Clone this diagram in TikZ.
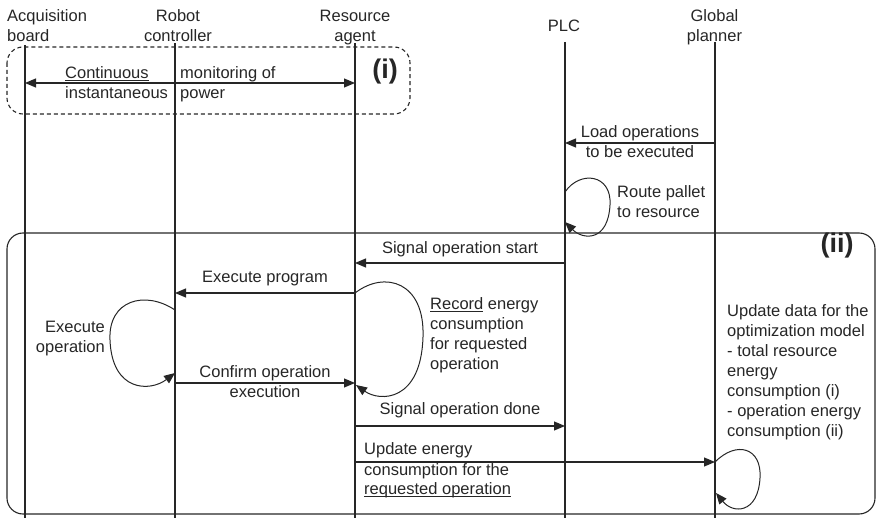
\documentclass[tikz,border=0pt]{standalone}
\usepackage{fontspec}
\setmainfont{Liberation Sans}
\usetikzlibrary{arrows.meta}
\definecolor{ink}{HTML}{262626}
% underline that ignores descenders, drawn just under the baseline
\newcommand\undl[1]{\underline{\smash{#1}}}
\begin{document}
\begin{tikzpicture}[x=1pt,y=-1pt,
  every node/.style={font=\fontsize{16.5}{20}\selectfont, text=ink, inner sep=0pt},
  lifeline/.style={draw=ink, line width=1.1pt},
  msg/.style={draw=ink, line width=1.2pt, -{Triangle[length=11pt,width=9pt]}},
  dmsg/.style={draw=ink, line width=1.2pt, {Triangle[length=11pt,width=9pt]}-{Triangle[length=11pt,width=9pt]}},
  selfloop/.style={draw=ink, line width=1pt, -{Triangle[length=11pt,width=9pt]}},
  phase/.style={draw=ink, line width=1.1pt, rounded corners=16pt},
  tag/.style={font=\fontsize{27}{30}\selectfont\bfseries}]
\useasboundingbox (0,0) rectangle (876,518);

% ---- participants ----
\node[anchor=base west, align=left] (hdr-acq) at (7,42) {Acquisition\\board};
\node[anchor=base, align=center] (hdr-rob) at (178,42) {Robot\\controller};
\node[anchor=base, align=center] (hdr-res) at (355,42) {Resource\\agent};
\node[anchor=base] (hdr-plc) at (564,32) {PLC};
\node[anchor=base, align=center] (hdr-gp) at (714.5,42) {Global\\planner};

\coordinate (acq-top) at (25,45);   \coordinate (acq-bot) at (25,518);
\coordinate (rob-top) at (175,43);  \coordinate (rob-bot) at (175,518);
\coordinate (res-top) at (355,43);  \coordinate (res-bot) at (355,518);
\coordinate (plc-top) at (565,42);  \coordinate (plc-bot) at (565,518);
\coordinate (gp-top)  at (715,42);  \coordinate (gp-bot)  at (715,518);

% ---- phase frames ----
\draw[phase, dashed, dash pattern=on 4pt off 3pt] (7,47) rectangle (410,114);
\draw[phase] (7,233) rectangle (875,514);
\node[tag] (tag-i) at (385,72) {(i)};
\node[tag] (tag-ii) at (837,246) {(ii)};

% ---- lifelines ----
\foreach \p in {acq,rob,res,plc,gp} \draw[lifeline] (\p-top) -- (\p-bot);

% ---- message end points ----
\coordinate (acq-mon) at (25,83);   \coordinate (res-mon) at (355,83);
\coordinate (gp-load) at (715,143); \coordinate (plc-load) at (565,143);
\coordinate (plc-route-a) at (565,192); \coordinate (plc-route-b) at (565,222);
\coordinate (plc-start) at (565,263); \coordinate (res-start) at (355,263);
\coordinate (res-prog) at (355,293);  \coordinate (rob-prog) at (175,293);
\coordinate (rob-exec-a) at (175,310); \coordinate (rob-exec-b) at (175,373);
\coordinate (rob-conf) at (175,383);  \coordinate (res-conf) at (355,383);
\coordinate (res-rec-b) at (356,385);
\coordinate (res-done) at (355,426);  \coordinate (plc-done) at (565,426);
\coordinate (res-upd) at (355,462);   \coordinate (gp-upd) at (715,462);
\coordinate (gp-loop-b) at (716,493);

% ---- messages ----
\draw[dmsg] (acq-mon) -- (res-mon);
\node[anchor=base west, align=left] (lbl-mon-a) at (65,99) {\undl{Continuous}\\instantaneous};
\node[anchor=base west, align=left] (lbl-mon-b) at (180,99) {monitoring of\\power};

\draw[msg] (gp-load) -- (plc-load);
\node[anchor=base, align=center] (lbl-load) at (640,158) {Load operations\\to be executed};

\draw[selfloop] (plc-route-a) .. controls (580,170) and (612,174) .. (610,205)
                              .. controls (608,242) and (583,240) .. (plc-route-b);
\node[anchor=base west, align=left] (lbl-route) at (617,218) {Route pallet\\to resource};

\draw[msg] (plc-start) -- (res-start);
\node[anchor=base] (lbl-start) at (460,254) {Signal operation start};

\draw[msg] (res-prog) -- (rob-prog);
\node[anchor=base] (lbl-prog) at (265,283) {Execute program};

\draw[selfloop] (rob-exec-a) .. controls (145,290) and (108,300) .. (110,340)
                             .. controls (112,392) and (150,392) .. (rob-exec-b);
\node[anchor=base east, align=right] (lbl-exec) at (105,353) {Execute\\operation};

\draw[selfloop] (res-prog) .. controls (385,270) and (425,282) .. (423,337)
                           .. controls (421,402) and (380,402) .. (res-rec-b);
\node[anchor=base west, align=left] (lbl-rec) at (430,370) {\undl{Record} energy\\consumption\\for requested\\operation};

\draw[msg] (rob-conf) -- (res-conf);
\node[anchor=base] (lbl-conf-a) at (265,378) {Confirm operation};
\node[anchor=base] (lbl-conf-b) at (265,398) {execution};

\draw[msg] (res-done) -- (plc-done);
\node[anchor=base] (lbl-done) at (460,415) {Signal operation done};

\draw[msg] (res-upd) -- (gp-upd);
\node[anchor=base west, align=left] (lbl-upd) at (364,495) {Update energy\\consumption for the\\\undl{requested operation}};

\draw[selfloop] (gp-upd) .. controls (737,440) and (762,448) .. (760,478)
                         .. controls (758,514) and (733,514) .. (gp-loop-b);
\node[anchor=base west, align=left] (lbl-gp) at (727,437) {Update data for the\\optimization model\\- total resource\\energy\\consumption (i)\\- operation energy\\consumption (ii)};
\end{tikzpicture}
\end{document}
